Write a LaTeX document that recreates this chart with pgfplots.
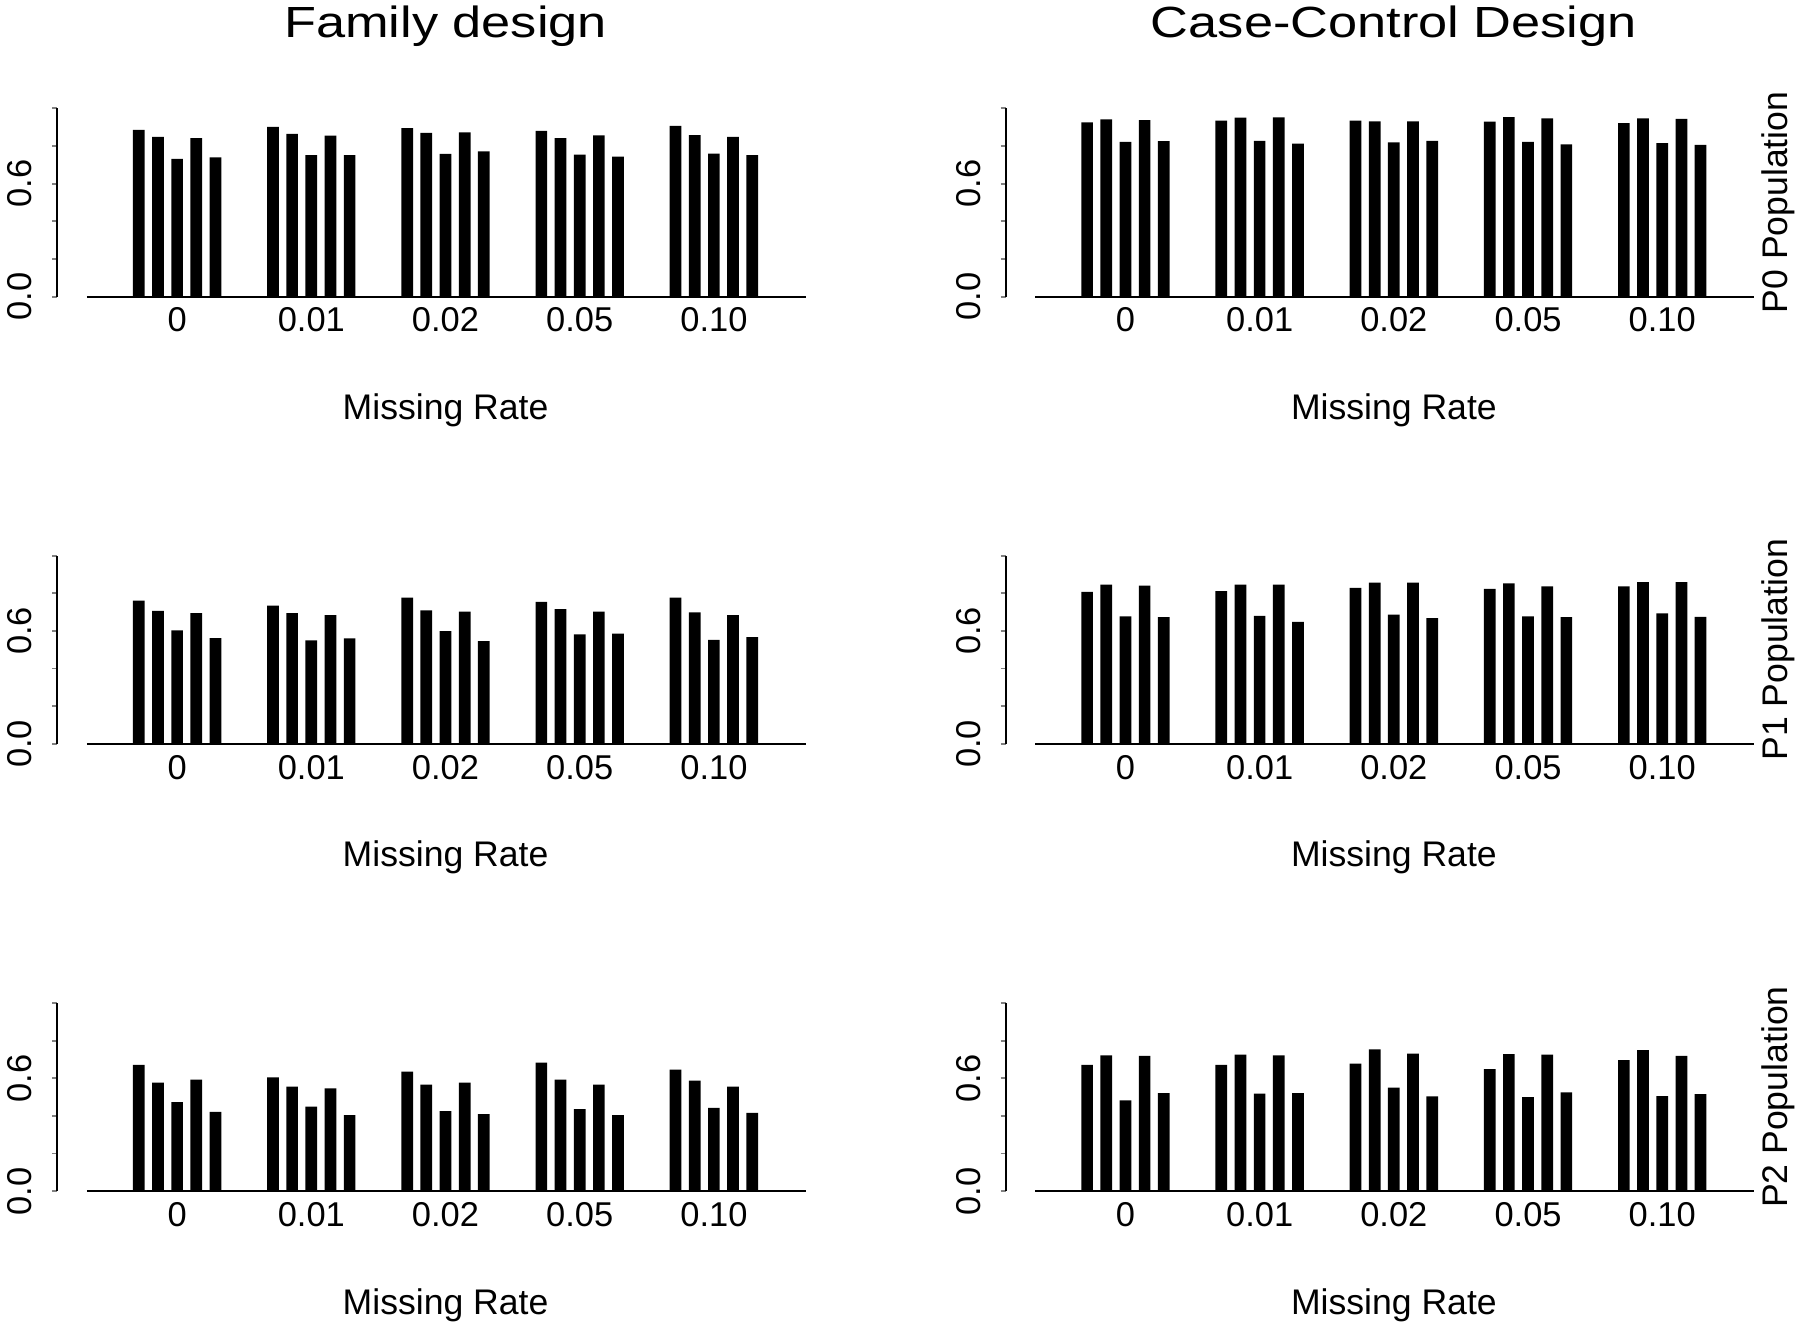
\documentclass[border=0pt]{standalone}
\usepackage{fontspec}
\setmainfont{Liberation Sans}
\newfontfamily\titlefont[FakeStretch=1.2]{Liberation Sans}
\usepackage{pgfplots}
\usepackage{pgfplotstable}
\pgfplotsset{compat=1.18}

% Family design, P0 / P1 / P2 (rows = missing rate groups, columns = 5 bars)
\pgfplotstableread{
g b1 b2 b3 b4 b5
0 0.885 0.849 0.731 0.842 0.740
1 0.902 0.865 0.751 0.855 0.751
2 0.895 0.870 0.758 0.872 0.772
3 0.881 0.842 0.754 0.856 0.744
4 0.907 0.858 0.759 0.849 0.752
}\famA
\pgfplotstableread{
g b1 b2 b3 b4 b5
0 0.761 0.706 0.603 0.695 0.562
1 0.734 0.695 0.550 0.684 0.560
2 0.777 0.709 0.599 0.702 0.546
3 0.754 0.716 0.582 0.702 0.585
4 0.777 0.699 0.553 0.684 0.567
}\famB
\pgfplotstableread{
g b1 b2 b3 b4 b5
0 0.671 0.577 0.473 0.593 0.422
1 0.605 0.555 0.450 0.546 0.404
2 0.635 0.566 0.425 0.577 0.409
3 0.683 0.593 0.436 0.566 0.404
4 0.646 0.587 0.443 0.555 0.416
}\famC
% Case-control design
\pgfplotstableread{
g b1 b2 b3 b4 b5
0 0.926 0.942 0.822 0.937 0.826
1 0.935 0.951 0.827 0.952 0.813
2 0.935 0.931 0.819 0.931 0.827
3 0.930 0.954 0.822 0.947 0.808
4 0.921 0.947 0.815 0.944 0.806
}\ccA
\pgfplotstableread{
g b1 b2 b3 b4 b5
0 0.807 0.846 0.677 0.841 0.673
1 0.811 0.846 0.680 0.846 0.648
2 0.829 0.857 0.686 0.857 0.668
3 0.823 0.852 0.677 0.836 0.673
4 0.836 0.859 0.693 0.859 0.675
}\ccB
\pgfplotstableread{
g b1 b2 b3 b4 b5
0 0.671 0.722 0.482 0.719 0.521
1 0.671 0.726 0.518 0.721 0.521
2 0.678 0.754 0.550 0.731 0.504
3 0.649 0.728 0.500 0.726 0.525
4 0.696 0.749 0.505 0.719 0.516
}\ccC

\pgfplotsset{
  panel/.style={
    scale only axis, width=327.74pt, height=82pt,
    xmin=-4.25, xmax=35, ymin=0, ymax=1,
    axis y line*=left, axis x line*=bottom,
    x axis line style={draw=none},
    y axis line style={line width=0.8pt},
    tick align=outside, major tick length=2.2pt,
    xtick style={draw=none},
    ytick style={line width=0.8pt},
    ytick={0,0.2,0.4,0.6,0.8,1},
    yticklabels={0.0,{},{},0.6,{},{}},
    xtick={2,9,16,23,30},
    xticklabels={0,0.01,0.02,0.05,0.10},
    /pgf/number format/assume math mode=true,
    tick label style={font=\fontsize{15}{18}\selectfont},
    xticklabel style={anchor=center, yshift=-8pt},
    yticklabel style={xshift=-14pt, rotate=90, anchor=center},
    xlabel={Missing Rate},
    xlabel style={at={(axis description cs:0.516,0)}, anchor=base, yshift=-53.5pt, font=\fontsize{15.5}{18}\selectfont},
    title style={at={(axis description cs:0.516,1)}, anchor=base, yshift=25pt, font=\titlefont\fontsize{19}{23}\selectfont},
    anchor=south west, clip=false,
  },
  bars/.style={ybar, bar width=0.61, bar shift=0pt, fill=black, draw=none},
}

\newcommand{\panelbars}[1]{%
  \addplot[bars] table[x expr=\coordindex*7+0, y=b1] {#1};
  \addplot[bars] table[x expr=\coordindex*7+1, y=b2] {#1};
  \addplot[bars] table[x expr=\coordindex*7+2, y=b3] {#1};
  \addplot[bars] table[x expr=\coordindex*7+3, y=b4] {#1};
  \addplot[bars] table[x expr=\coordindex*7+4, y=b5] {#1};
  \draw[line width=0.8pt] (axis cs:-2.7,0) -- (axis cs:34.8,0);
}

\begin{document}
\begin{tikzpicture}
\useasboundingbox (0,0) rectangle (784pt,578pt);

% ---- row 1 ----
\begin{axis}[panel, at={(24.95pt,448.8pt)}, title={Family design}]
\panelbars{\famA}
\end{axis}
\begin{axis}[panel, at={(438pt,448.8pt)}, title={Case-Control Design}]
\panelbars{\ccA}
\node[rotate=90, anchor=center, font=\fontsize{15.5}{18}\selectfont] at ([xshift=9pt]axis description cs:1,0.5) {P0 Population};
\end{axis}

% ---- row 2 ----
\begin{axis}[panel, at={(24.95pt,254pt)}]
\panelbars{\famB}
\end{axis}
\begin{axis}[panel, at={(438pt,254pt)}]
\panelbars{\ccB}
\node[rotate=90, anchor=center, font=\fontsize{15.5}{18}\selectfont] at ([xshift=9pt]axis description cs:1,0.5) {P1 Population};
\end{axis}

% ---- row 3 ----
\begin{axis}[panel, at={(24.95pt,59.15pt)}]
\panelbars{\famC}
\end{axis}
\begin{axis}[panel, at={(438pt,59.15pt)}]
\panelbars{\ccC}
\node[rotate=90, anchor=center, font=\fontsize{15.5}{18}\selectfont] at ([xshift=9pt]axis description cs:1,0.5) {P2 Population};
\end{axis}
\end{tikzpicture}
\end{document}
